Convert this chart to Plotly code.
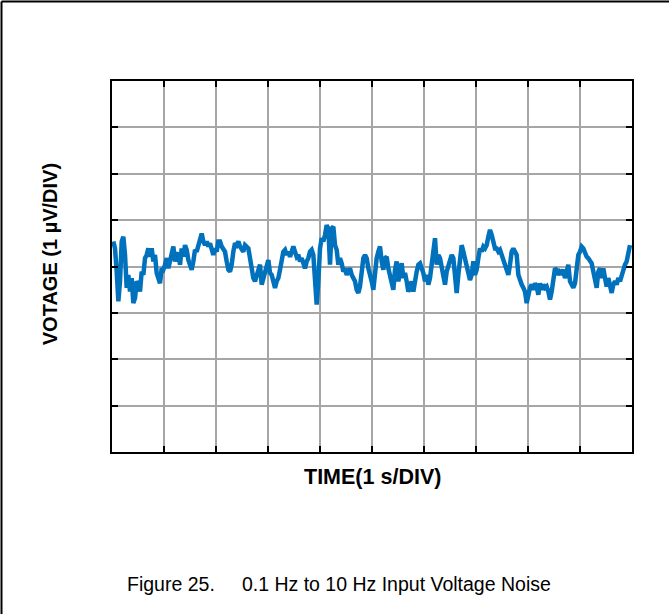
"""
plot.py
0.1 Hz to 10 Hz input voltage noise (scope capture, 1 s/DIV x 1 uV/DIV)
"""
import numpy as np
import plotly.graph_objects as go

SAMPLE_PERIOD_S = 0.03205
T_START_S = 0.026

NOISE_SEG_1 = [
    0.54, 0.39, -0.11, -0.75, -0.32, 0.54, 0.64, 0.25, -0.46, -0.18,
    -0.54, -0.25, -0.79, -0.68, -0.32, -0.39, -0.54, -0.11, -0.18, 0.18,
    0.25, 0.39, 0.21, 0.39, 0.11, 0.25, -0.14, -0.25, -0.36, -0.04,
    -0.07, 0.04, 0.18, -0.04, 0.14, 0.32, 0.43, 0.11, 0.25, 0.29,
    0.04, 0.39, 0.21, 0.46, 0.36, 0.14, 0.04, -0.07, 0.11, 0.36,
    0.32, 0.43, 0.54, 0.71, 0.54, 0.46, 0.54, 0.43, 0.50, 0.32,
    0.25, 0.39, 0.32, 0.54, 0.54, 0.43, 0.39, 0.32, 0.11, -0.07,
    -0.11, 0.04, 0.32,
]
NOISE_SEG_2 = [
    0.50, 0.46, 0.54, 0.43, 0.39, 0.32, 0.46, 0.43, 0.39, 0.18,
    -0.04, -0.25, -0.32, -0.18, -0.04, 0.04, -0.39, -0.25, -0.11, 0.04,
    0.14, -0.14, -0.18, -0.32, -0.46, -0.32, -0.25, -0.07, 0.18, 0.32,
    0.36, 0.25, 0.32, 0.21, 0.32, 0.43, 0.32, 0.21, 0.25, 0.11,
    0.18, 0.04, -0.04, 0.11, 0.18, 0.32, 0.36, 0.25, -0.25, -0.82,
    -0.32, 0.39, 0.61, 0.54, 0.68, 0.89, 0.82, 0.04, 0.82, 0.86,
    0.46, 0.36, 0.04, 0.18, 0.07, -0.11, -0.04, -0.18, -0.11, -0.04,
    -0.18, -0.25, -0.32, -0.50, -0.57, -0.43, -0.18, 0.18,
]
NOISE_SEG_3 = [
    0.25, 0.18, -0.04, -0.25, -0.32, -0.50, -0.14, 0.18, 0.32, 0.43,
    0.11, -0.07, 0.18, 0.21, -0.04, -0.18, -0.32, -0.50, -0.07, 0.11,
    -0.32, -0.04, 0.07, -0.25, -0.14, -0.32, -0.54, -0.46, -0.32, -0.54,
    -0.25, -0.11, 0.04, 0.07, -0.04, -0.14, -0.32, -0.18, -0.39, -0.25,
    0.04, 0.32, 0.61, 0.04, 0.25, 0.18, -0.04, -0.25, -0.39, -0.11,
    0.04, 0.11, 0.25, 0.18, -0.25, -0.57, -0.18, 0.18, 0.46, 0.32,
    0.18, -0.04, -0.14, -0.29, -0.18, 0.11, -0.18, -0.07, 0.18, 0.39,
    0.32, 0.43, 0.39, 0.46, 0.64, 0.79, 0.68, 0.54,
]
NOISE_SEG_4 = [
    0.39, 0.39, 0.32, 0.36, 0.25, 0.18, 0.04, -0.11, -0.18, 0.04,
    0.32, 0.39, 0.32, 0.25, -0.18, -0.32, -0.39, -0.46, -0.54, -0.79,
    -0.61, -0.46, -0.39, -0.50, -0.36, -0.43, -0.61, -0.36, -0.50, -0.39,
    -0.46, -0.43, -0.54, -0.71, -0.54, -0.29, -0.04, -0.07, -0.18, -0.11,
    -0.14, -0.07, -0.25, -0.11, 0.04, -0.32, -0.39, -0.46, -0.36, -0.04,
    0.25, 0.32, 0.43, 0.39, 0.29, 0.21, 0.18, 0.14, 0.07, -0.11,
    -0.32, -0.46, -0.11, -0.04, -0.25, -0.04, -0.25, -0.43, -0.25, -0.46,
    -0.57, -0.39, -0.32, -0.39, -0.25, -0.32, -0.18, -0.04, 0.04, 0.11,
    0.25, 0.46,
]

X_RANGE = [0, 10]       # 10 divisions, 1 s/DIV
Y_RANGE = [-4, 4]       # 8 divisions, 1 uV/DIV
X_TITLE = "TIME(1 s/DIV)"
Y_TITLE = "VOTAGE (1 µV/DIV)"
CAPTION = "Figure 25.&nbsp;&nbsp;&nbsp;&nbsp;&nbsp;0.1 Hz to 10 Hz Input Voltage Noise"

TRACE_COLOR = "#0071bc"
GRID_COLOR = "#a6a6a6"
FONT = "Liberation Sans, Arial, sans-serif"

volts = np.array(NOISE_SEG_1 + NOISE_SEG_2 + NOISE_SEG_3 + NOISE_SEG_4)
times = T_START_S + SAMPLE_PERIOD_S * np.arange(len(volts))

fig = go.Figure()
fig.add_trace(go.Scatter(
    x=times, y=volts, mode="lines",
    line=dict(color=TRACE_COLOR, width=4.5),
    showlegend=False, hoverinfo="skip",
))

axis_common = dict(
    showgrid=True, gridcolor=GRID_COLOR, gridwidth=2,
    showline=True, linecolor="black", linewidth=2, mirror="ticks",
    ticks="inside", ticklen=6, tickwidth=2, tickcolor="black",
    showticklabels=False, zeroline=False, fixedrange=True,
)
fig.update_xaxes(range=X_RANGE, dtick=1, **axis_common)
fig.update_yaxes(range=Y_RANGE, dtick=1, **axis_common)

# axis titles as annotations (the y title sits a bit above the plot centre)
fig.add_annotation(text=f"<b>{X_TITLE}</b>", xref="paper", yref="paper",
                   x=0.5, y=-0.067, xanchor="center", yanchor="middle",
                   showarrow=False, font=dict(family=FONT, size=21.5, color="black"))
fig.add_annotation(text=f"<b>{Y_TITLE}</b>", xref="paper", yref="paper",
                   x=-0.12, y=0.532, xanchor="center", yanchor="middle",
                   textangle=-90, showarrow=False,
                   font=dict(family=FONT, size=20, color="black"))

# outer frame of the figure box (left and top edges only)
fig.add_shape(type="line", xref="paper", yref="paper",
              x0=-0.2125, x1=-0.2125, y0=-0.45, y1=1.214,
              line=dict(color="black", width=2))
fig.add_shape(type="line", xref="paper", yref="paper",
              x0=-0.2125, x1=1.1, y0=1.214, y1=1.214,
              line=dict(color="black", width=2))

fig.add_annotation(
    text=CAPTION, xref="paper", yref="paper", x=0.4356, y=-0.357,
    xanchor="center", yanchor="middle", showarrow=False,
    font=dict(family=FONT, size=19.5, color="black"),
)

fig.update_layout(
    width=669, height=614,
    margin=dict(l=112, r=37, t=81, b=162),
    paper_bgcolor="white", plot_bgcolor="white",
    font=dict(family=FONT, color="black"),
)

# drop the browser's default 8px body margin so the figure sits at (0, 0)
fig.write_html("out.html", config={"displayModeBar": False},
               post_script="document.body.style.margin='0';")
